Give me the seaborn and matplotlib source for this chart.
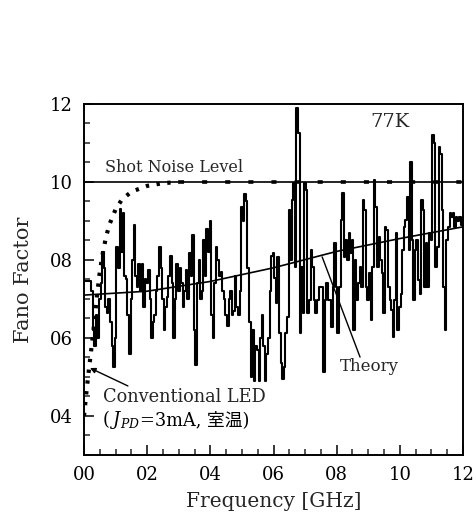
import numpy as np
import pandas as pd
import matplotlib
matplotlib.use("Agg")
import matplotlib.pyplot as plt
from matplotlib.offsetbox import TextArea, HPacker, AnnotationBbox
import seaborn as sns

# measured Fano factor (77K), one value per 0.005 GHz, 0.000 ... 1.200 GHz
freq = np.round(np.arange(0, 241) * 0.005, 3)
fano = [0.745, 0.745, 0.745, 0.745, 0.745, 0.72, 0.62, 0.58, 0.66, 0.60,
        0.70, 0.74, 0.82, 0.78, 0.68, 0.665, 0.70, 0.64, 0.58, 0.526,
        0.60, 0.834, 0.78, 0.93, 0.82, 0.92, 0.76, 0.75, 0.66, 0.56,
        0.70, 0.80, 0.89, 0.76, 0.73, 0.79, 0.72, 0.79, 0.68, 0.75,
        0.74, 0.775, 0.70, 0.60, 0.64, 0.66, 0.72, 0.76, 0.834, 0.78,
        0.70, 0.62, 0.68, 0.705, 0.76, 0.81, 0.74, 0.60, 0.70, 0.79,
        0.72, 0.78, 0.74, 0.68, 0.72, 0.775, 0.70, 0.817, 0.76, 0.864,
        0.62, 0.53, 0.74, 0.80, 0.70, 0.72, 0.85, 0.76, 0.88, 0.82,
        0.90, 0.66, 0.60, 0.74, 0.834, 0.80, 0.76, 0.77, 0.72, 0.70,
        0.66, 0.63, 0.70, 0.72, 0.66, 0.67, 0.76, 0.68, 0.66, 0.72,
        0.937, 0.90, 0.97, 0.95, 0.78, 0.64, 0.50, 0.62, 0.49, 0.58,
        0.57, 0.49, 0.60, 0.66, 0.58, 0.49, 0.56, 0.60, 0.72, 0.81,
        0.817, 0.753, 0.689, 0.808, 0.612, 0.535, 0.496, 0.526, 0.612, 0.655,
        0.928, 0.80, 0.954, 0.997, 0.783, 1.189, 1.125, 0.612, 0.783, 0.663,
        0.997, 0.98, 0.663, 0.697, 0.826, 0.783, 0.697, 0.663, 0.697, 0.731,
        0.731, 0.731, 0.513, 0.697, 0.74, 0.697, 0.697, 0.629, 0.731, 0.843,
        0.731, 0.612, 0.731, 0.903, 0.971, 0.808, 0.851, 0.80, 0.868, 0.817,
        0.851, 0.62, 0.80, 0.697, 0.74, 0.783, 0.731, 0.954, 0.928, 0.731,
        0.697, 0.766, 0.646, 0.783, 1.005, 0.937, 0.783, 0.86, 0.80, 0.766,
        0.663, 0.885, 0.877, 0.731, 0.697, 0.672, 0.603, 0.697, 0.868, 0.62,
        0.68, 0.714, 0.826, 0.885, 0.903, 0.962, 0.826, 1.052, 0.851, 0.697,
        0.826, 0.851, 0.748, 0.714, 0.954, 0.928, 0.731, 0.843, 0.731, 0.868,
        0.851, 1.12, 1.099, 0.783, 0.834, 1.09, 1.073, 0.928, 0.731, 0.62,
        0.851, 0.885, 0.92, 0.911, 0.92, 0.885, 0.911, 0.90, 0.91, 0.89,
        0.90]

# theory curve
theory_f = [0.0, 0.2, 0.4, 0.6, 0.8, 1.0, 1.2]
theory_v = [0.710, 0.720, 0.745, 0.780, 0.822, 0.855, 0.885]

# conventional LED (rising part dotted, flat part dashed on shot noise level)
led_f = [0.0, 0.01, 0.02, 0.03, 0.04, 0.05, 0.06, 0.07, 0.08, 0.10, 0.12, 0.15, 0.20, 0.25, 0.30]
led_v = [0.40, 0.48, 0.55, 0.62, 0.70, 0.77, 0.82, 0.86, 0.89, 0.93, 0.955, 0.975, 0.99, 0.997, 1.0]
led_flat_f = [0.30, 1.20]
led_flat_v = [1.0, 1.0]

shot_level = 1.0

xticks = [0.0, 0.2, 0.4, 0.6, 0.8, 1.0, 1.2]
xtick_labels = ["00", "02", "04", "06", "08", "10", "12"]
yticks = [0.4, 0.6, 0.8, 1.0, 1.2]
ytick_labels = ["04", "06", "08", "10", "12"]

sns.set_theme(style="ticks")
plt.rcParams['font.family'] = ['DejaVu Serif', 'Noto Sans CJK JP']
plt.rcParams['mathtext.fontset'] = 'dejavuserif'

fig = plt.figure(figsize=(4.76, 5.21), dpi=100)
ax = fig.add_axes([0.1765, 0.1267, 0.7962, 0.6737])

df = pd.DataFrame({"freq": freq, "fano": fano})
sns.lineplot(data=df, x="freq", y="fano", ax=ax, color="black", linewidth=1.5,
             drawstyle="steps-mid", estimator=None)
sns.lineplot(x=theory_f, y=theory_v, ax=ax, color="black", linewidth=1.2)
ax.axhline(shot_level, color="black", linewidth=1.2)
ax.plot(led_f, led_v, color="black", linewidth=3.0, linestyle=(0, (0.8, 1.8)))
ax.plot(led_flat_f, led_flat_v, color="black", linewidth=2.6, linestyle=(0, (1.4, 5.0)))

ax.set_xlim(0, 1.2)
ax.set_ylim(0.3, 1.2)
ax.set_xticks(xticks)
ax.set_xticklabels(xtick_labels)
ax.set_yticks(yticks)
ax.set_yticklabels(ytick_labels)
ax.set_xticks(np.round(np.arange(0, 1.2001, 0.05), 2), minor=True)
ax.set_yticks(np.round(np.arange(0.3, 1.2001, 0.05), 2), minor=True)
ax.tick_params(which="major", direction="in", length=7, width=1.1, labelsize=13, colors="black", pad=8)
ax.tick_params(which="minor", direction="in", length=4, width=1.1)
for s in ax.spines.values():
    s.set_linewidth(1.4)
    s.set_color("black")

ax.set_xlabel("Frequency [GHz]", fontsize=14.5, labelpad=6)
ax.set_ylabel("Fano Factor", fontsize=15, labelpad=12)

ax.text(0.067, 1.015, "Shot Noise Level", fontsize=11.5, va="bottom", ha="left")
ax.text(0.97, 1.155, "77K", fontsize=14, va="center", ha="center")

ax.text(0.81, 0.528, "Theory", fontsize=12, ha="left", va="center")
ax.annotate("", xy=(0.754, 0.808), xytext=(0.874, 0.551),
            arrowprops=dict(arrowstyle="-", color="black", lw=1.0, shrinkA=0, shrinkB=0))

ax.text(0.06, 0.449, "Conventional LED", fontsize=12.8, ha="left", va="center")
ax.annotate("", xy=(0.019, 0.523), xytext=(0.139, 0.477),
            arrowprops=dict(arrowstyle="-|>", color="black", lw=1.0, mutation_scale=8,
                            shrinkA=0, shrinkB=0))
tp = dict(fontsize=12.8, color="black", family=['DejaVu Serif', 'Noto Sans CJK JP'])
parts = [TextArea("(", textprops=tp),
         TextArea(r"$J_{PD}$", textprops=dict(fontsize=12.8, color="black")),
         TextArea("=3mA, 室温)", textprops=tp)]
box = HPacker(children=parts, align="baseline", pad=0, sep=0)
ab = AnnotationBbox(box, (0.06, 0.39), xycoords="data", box_alignment=(0, 0.5),
                    frameon=False, pad=0)
ax.add_artist(ab)

fig.savefig("out.png", dpi=100)
